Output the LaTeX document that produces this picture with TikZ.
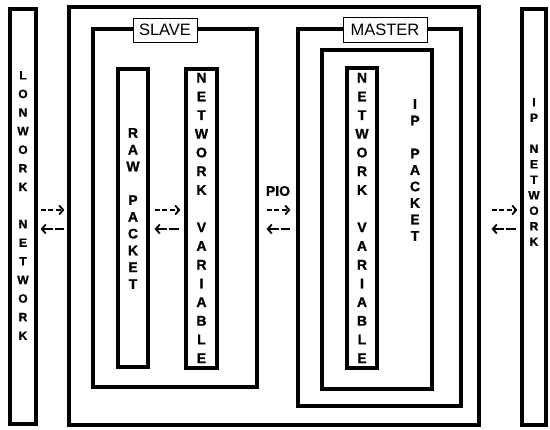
\documentclass[tikz,border=0pt]{standalone}
\usepackage{fontspec}
\setmainfont{Liberation Sans}
\newfontfamily\heavyfont{Liberation Sans}[BoldFeatures={FakeBold=1}]
\usetikzlibrary{arrows.meta}
\begin{document}
\begin{tikzpicture}[x=1pt,y=-1pt,
  heavy/.style={draw, line width=3.2pt, rectangle, inner sep=0pt},
  tag/.style={draw, line width=0.8pt, fill=white, inner sep=0pt, font=\fontsize{16.5}{16.5}\selectfont},
  colA/.style={align=center, inner sep=0pt, font=\heavyfont\bfseries\fontsize{14}{18.7}\selectfont},
  colB/.style={align=center, inner sep=0pt, font=\heavyfont\bfseries\fontsize{12}{18.6}\selectfont},
  fwd/.style={line width=1.8pt, dash pattern=on 5pt off 2.5pt, -{Straight Barb[length=4pt,width=9pt]}},
  bwd/.style={line width=1.8pt, dash pattern=on 10pt off 2pt, {Straight Barb[length=4pt,width=9pt]}-},
]
\useasboundingbox (0,0) rectangle (550,430);

% outer boxes
\node[heavy, minimum width=26pt, minimum height=415pt] (lon) at (23,216.5) {};
\node[heavy, minimum width=410pt, minimum height=418pt] (outer) at (274,216) {};
\node[heavy, minimum width=24pt, minimum height=416pt] (ipnet) at (534,217) {};

% slave side
\node[heavy, minimum width=164pt, minimum height=358pt] (slave) at (175,208) {};
\node[heavy, minimum width=30pt, minimum height=298pt] (raw) at (133,218) {};
\node[heavy, minimum width=31pt, minimum height=299pt] (nvs) at (201.5,218.5) {};

% master side
\node[heavy, minimum width=163pt, minimum height=377pt] (master) at (379.5,217.5) {};
\node[heavy, minimum width=110pt, minimum height=339pt] (inner) at (377,219.5) {};
\node[heavy, minimum width=30pt, minimum height=300pt] (nvm) at (362,218) {};

% tags
\node[tag, minimum width=64pt, minimum height=24pt] (slavetag) at (165,30) {SLAVE};
\node[tag, minimum width=84pt, minimum height=25pt] (mastertag) at (385,29.5) {MASTER};

% column texts
\node[colB] (lontxt) at (23,205.5) {L\\O\\N\\W\\O\\R\\K\\~\\N\\E\\T\\W\\O\\R\\K};
\node[colB, font=\heavyfont\bfseries\fontsize{12}{15.5}\selectfont] (iptxt) at (534,172) {I\\P\\~\\N\\E\\T\\W\\O\\R\\K};
\node[colA, font=\heavyfont\bfseries\fontsize{14}{16.8}\selectfont] (rawtxt) at (133,208.5) {R\\A\\W\\~\\P\\A\\C\\K\\E\\T};
\node[colA] (nvstxt) at (201.5,218) {N\\E\\T\\W\\O\\R\\K\\~\\V\\A\\R\\I\\A\\B\\L\\E};
\node[colA] (nvmtxt) at (362,218) {N\\E\\T\\W\\O\\R\\K\\~\\V\\A\\R\\I\\A\\B\\L\\E};
\node[colA, font=\heavyfont\bfseries\fontsize{14}{16.5}\selectfont] (ippk) at (415,170) {I\\P\\~\\P\\A\\C\\K\\E\\T};
\node[font=\heavyfont\bfseries\fontsize{14}{14}\selectfont, inner sep=0pt] (pio) at (278,191) {PIO};

% arrow rows
\coordinate (r1) at (0,210);
\coordinate (r2) at (0,229);

\draw[fwd, shorten <=3pt, shorten >=3pt] (lon.east |- r1) -- (outer.west |- r1);
\draw[bwd, shorten <=3pt, shorten >=3pt] (lon.east |- r2) -- (outer.west |- r2);

\draw[fwd, shorten <=5pt, shorten >=4pt] (raw.east |- r1) -- (nvs.west |- r1);
\draw[bwd, shorten <=5pt, shorten >=4pt] (raw.east |- r2) -- (nvs.west |- r2);

\draw[fwd, shorten <=8pt, shorten >=6pt] (slave.east |- r1) -- (master.west |- r1);
\draw[bwd, shorten <=8pt, shorten >=6pt] (slave.east |- r2) -- (master.west |- r2);

\draw[fwd, shorten <=11pt, shorten >=3pt] (outer.east |- r1) -- (ipnet.west |- r1);
\draw[bwd, shorten <=11pt, shorten >=3pt] (outer.east |- r2) -- (ipnet.west |- r2);
\end{tikzpicture}
\end{document}
